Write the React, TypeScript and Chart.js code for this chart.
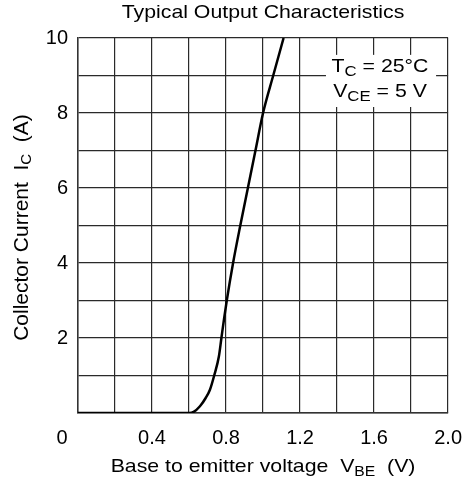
import { useEffect, useRef } from 'react';
import { Chart, registerables } from 'chart.js';

Chart.register(...registerables);

// V_BE (V) vs I_C (A)
const vbe = [0, 0.6, 0.625, 0.659, 0.69, 0.713, 0.736, 0.761, 0.775, 0.789, 0.804, 0.838, 0.877, 0.918, 0.959, 1.0, 1.055, 1.111];
const ic = [0, 0, 0.03, 0.18, 0.4, 0.62, 1, 1.5, 2, 2.5, 3, 4, 5, 6, 7, 8, 9, 10];
const xTickLabels = ['0', '0.4', '0.8', '1.2', '1.6', '2.0'];
const yTickLabels = ['2', '4', '6', '8', '10'];
const chartTitle = 'Typical Output Characteristics';
const conditionLines: [string, string, string][] = [
  ['T', 'C', ' = 25°C'],
  ['V', 'CE', ' = 5 V'],
];

const FONT = '"Liberation Sans", Arial, sans-serif';

function drawRich(
  ctx: CanvasRenderingContext2D,
  parts: [string, boolean][],
  x: number,
  y: number,
  size: number,
  subSize: number,
  subOffset: number,
  hScale: number
) {
  const widths = parts.map(([t, sub]) => {
    ctx.font = `${sub ? subSize : size}px ${FONT}`;
    return ctx.measureText(t).width;
  });
  const total = widths.reduce((a, b) => a + b, 0);
  ctx.save();
  ctx.translate(x, y);
  ctx.scale(hScale, 1);
  let cx = -total / 2;
  ctx.textAlign = 'left';
  ctx.textBaseline = 'middle';
  parts.forEach(([t, sub], i) => {
    ctx.font = `${sub ? subSize : size}px ${FONT}`;
    ctx.fillText(t, cx, sub ? subOffset : 0);
    cx += widths[i];
  });
  ctx.restore();
}

const annotationPlugin = {
  id: 'annotations',
  afterDraw(chart: any) {
    const ctx: CanvasRenderingContext2D = chart.ctx;
    const area = chart.chartArea;
    const xs = chart.scales.x;
    const ys = chart.scales.y;
    ctx.save();
    ctx.fillStyle = '#000';

    // title
    drawRich(ctx, [[chartTitle, false]], (area.left + area.right) / 2, 13, 19, 14, 0, 1.12);

    // shared origin label
    ctx.font = `20px ${FONT}`;
    ctx.textAlign = 'center';
    ctx.textBaseline = 'middle';
    ctx.fillText(xTickLabels[0], area.left - 16, area.bottom + 25);

    // x axis title
    drawRich(
      ctx,
      [['Base to emitter voltage  V', false], ['BE', true], ['  (V)', false]],
      (area.left + area.right) / 2,
      area.bottom + 54,
      19,
      14,
      5,
      1.12
    );

    // y axis title
    ctx.save();
    ctx.translate(22, (area.top + area.bottom) / 2 + 2);
    ctx.rotate(-Math.PI / 2);
    drawRich(
      ctx,
      [['Collector Current  I', false], ['C', true], ['  (A)', false]],
      0,
      0,
      21,
      15,
      5,
      1
    );
    ctx.restore();

    // condition box
    const bx0 = xs.getPixelForValue(1.34);
    const bx1 = xs.getPixelForValue(1.935);
    const by0 = ys.getPixelForValue(9.55);
    const by1 = ys.getPixelForValue(8.16);
    ctx.fillStyle = '#fff';
    ctx.fillRect(bx0, by0, bx1 - bx0, by1 - by0);
    ctx.fillStyle = '#000';
    const cx = (bx0 + bx1) / 2 - 1;
    conditionLines.forEach(([a, s, b], i) => {
      drawRich(ctx, [[a, false], [s, true], [b, false]], cx, by0 + 11.5 + i * 25, 19, 15, 5, 1.12);
    });
    ctx.restore();
  },
};

function labelFor(list: string[], v: number): string {
  const found = list.find((l) => Math.abs(parseFloat(l) - v) < 1e-6);
  return found ?? '';
}

export default function App() {
  const ref = useRef<HTMLCanvasElement | null>(null);

  useEffect(() => {
    if (!ref.current) return;
    const chart = new Chart(ref.current, {
      type: 'line',
      data: {
        datasets: [
          {
            data: vbe.map((v, i) => ({ x: v, y: ic[i] })),
            borderColor: '#000',
            borderWidth: 2.5,
            pointRadius: 0,
            fill: false,
            cubicInterpolationMode: 'monotone',
          },
        ],
      },
      options: {
        responsive: false,
        animation: false,
        events: [],
        layout: { padding: { top: 38, right: 26, left: 0, bottom: 0 } },
        plugins: {
          legend: { display: false },
          title: { display: false },
          tooltip: { enabled: false },
        },
        scales: {
          x: {
            type: 'linear',
            min: 0,
            max: 2,
            afterFit: (s: any) => {
              s.height = 71;
            },
            ticks: {
              stepSize: 0.2,
              autoSkip: false,
              maxRotation: 0,
              padding: 13,
              color: '#000',
              font: { family: FONT, size: 20 },
              callback: (v: any) => (Math.abs(v) < 1e-9 ? '' : labelFor(xTickLabels, Number(v))),
            },
            grid: { color: '#2a2a2a', lineWidth: 1.2, drawTicks: false },
            border: { display: true, color: '#333', width: 1.5 },
          },
          y: {
            type: 'linear',
            min: 0,
            max: 10,
            afterFit: (s: any) => {
              s.width = 78;
            },
            ticks: {
              stepSize: 1,
              autoSkip: false,
              padding: 10,
              color: '#000',
              font: { family: FONT, size: 20 },
              callback: (v: any) => labelFor(yTickLabels, Number(v)),
            },
            grid: { color: '#2a2a2a', lineWidth: 1.2, drawTicks: false },
            border: { display: true, color: '#333', width: 1.5 },
          },
        },
      },
      plugins: [annotationPlugin],
    });
    return () => chart.destroy();
  }, []);

  return (
    <div style={{ position: 'absolute', left: 0, top: 0, width: 475, height: 484, background: '#fff' }}>
      <canvas ref={ref} width={475} height={484} style={{ display: 'block' }} />
    </div>
  );
}
